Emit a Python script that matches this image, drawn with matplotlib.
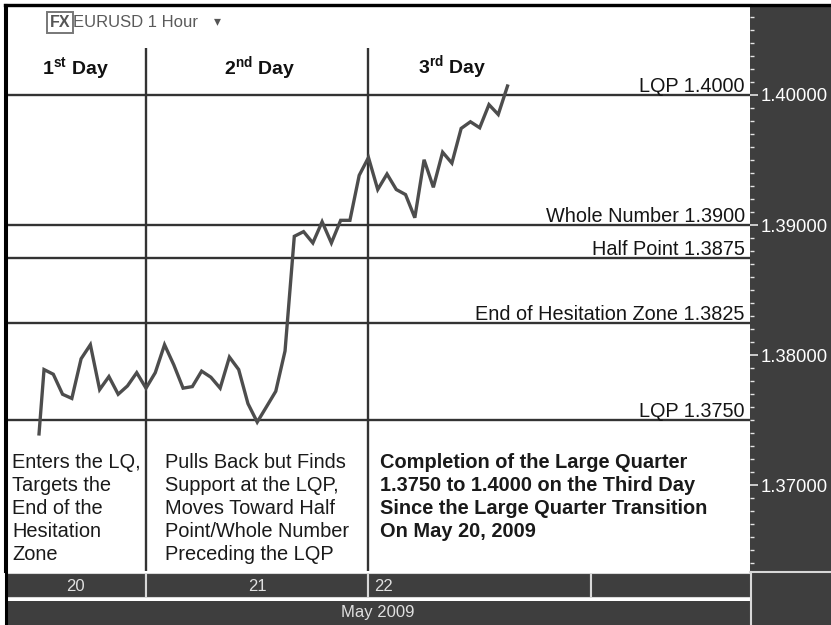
import numpy as np
import matplotlib
matplotlib.use("Agg")
import matplotlib.pyplot as plt
from matplotlib.ticker import MultipleLocator, FixedLocator, FixedFormatter
from matplotlib.lines import Line2D

plt.rcParams['font.family'] = ['Liberation Sans', 'DejaVu Sans']
plt.rcParams['mathtext.fontset'] = 'custom'
plt.rcParams['mathtext.rm'] = 'Liberation Sans'
plt.rcParams['mathtext.bf'] = 'Liberation Sans:bold'

# ---------------- data ----------------
# hourly EURUSD closes, hours counted from May 20 2009 00:00
first_hour = 12.46
first_price = 1.37393
start_hour = 13
prices = [1.37888, 1.37852, 1.37698, 1.37666, 1.37971, 1.38079, 1.37734, 1.37834,
          1.37698, 1.37762, 1.37864, 1.37745, 1.37864, 1.38079, 1.37924, 1.37745,
          1.37757, 1.37876, 1.37829, 1.37745, 1.37984, 1.37888, 1.37626, 1.37484,
          1.37602, 1.37721, 1.38031, 1.38913, 1.38949, 1.38862, 1.39025, 1.38862,
          1.39036, 1.39036, 1.39382, 1.39519, 1.39273, 1.39392, 1.39273, 1.39234,
          1.39056, 1.39502, 1.39290, 1.39560, 1.39476, 1.39743, 1.39794, 1.39748,
          1.39926, 1.39850, 1.40069]

levels = [1.4000, 1.3900, 1.3875, 1.3825, 1.3750]
level_labels = ["LQP 1.4000", "Whole Number 1.3900", "Half Point 1.3875",
                "End of Hesitation Zone 1.3825", "LQP 1.3750"]

day_bounds = [24, 48]
day_titles = ["1$^{\\mathbf{st}}$ Day", "2$^{\\mathbf{nd}}$ Day", "3$^{\\mathbf{rd}}$ Day"]
day_notes = ["Enters the LQ,\nTargets the\nEnd of the\nHesitation\nZone",
             "Pulls Back but Finds\nSupport at the LQP,\nMoves Toward Half\nPoint/Whole Number\nPreceding the LQP",
             "Completion of the Large Quarter\n1.3750 to 1.4000 on the Third Day\nSince the Large Quarter Transition\nOn May 20, 2009"]

day_starts = [0, 24, 48, 72]
day_labels = ["20", "21", "22", ""]
month_label = "May 2009"
yticks = [1.37, 1.38, 1.39, 1.40]
ytick_labels = ["1.37000", "1.38000", "1.39000", "1.40000"]

hours = np.concatenate([[first_hour], start_hour + np.arange(len(prices))])
series = np.concatenate([[first_price], prices])

# ---------------- figure ----------------
W, H = 831, 625
fig = plt.figure(figsize=(W / 100, H / 100), dpi=100)
fig.patch.set_facecolor('white')

DARK = '#3e3e3e'
XL = (8.79, 89.16)
YL = (1.363385, 1.406923)

def fx(px):
    return px / W

def fy(py):
    return 1 - py / H

# right dark panel (background axes)
axbg = fig.add_axes([fx(750), 0, 1 - fx(750), fy(5)], zorder=-5)
axbg.set_facecolor(DARK)
axbg.set_xticks([]); axbg.set_yticks([])
for s in axbg.spines.values():
    s.set_visible(False)
fig.lines.append(Line2D([fx(750), 1], [fy(571.5), fy(571.5)], transform=fig.transFigure,
                        color='#d8d8d8', lw=1.5, zorder=2))
fig.lines.append(Line2D([fx(750.5), fx(750.5)], [0, fy(571.5)], transform=fig.transFigure,
                        color='#d8d8d8', lw=1.5, zorder=2))

ax = fig.add_axes([fx(5), fy(571), fx(750) - fx(5), fy(5) - fy(571)], zorder=2)
ax.set_xlim(*XL)
ax.set_ylim(*YL)
ax.set_facecolor('white')
for s in ['right', 'bottom']:
    ax.spines[s].set_visible(False)
for s in ['left', 'top']:
    ax.spines[s].set_color('black')
    ax.spines[s].set_linewidth(2.2)

ax.set_xticks([])
ax.yaxis.tick_right()
ax.yaxis.set_major_locator(FixedLocator(yticks))
ax.yaxis.set_major_formatter(FixedFormatter(ytick_labels))
ax.yaxis.set_minor_locator(MultipleLocator(0.001))
ax.tick_params(axis='y', which='major', direction='out', length=6, width=1.2,
               color='#e6e6e6', labelcolor='white', labelsize=13.3, pad=2)
ax.tick_params(axis='y', which='minor', direction='out', length=3, width=1.0, color='#e6e6e6')

# level lines and labels
for lv, lab in zip(levels, level_labels):
    ax.axhline(lv, color='#333333', lw=1.7, zorder=2)
    ax.annotate(lab, xy=(0.993, lv), xycoords=ax.get_yaxis_transform(),
                xytext=(0, 2), textcoords='offset points', ha='right', va='baseline',
                fontsize=14.3, color='#151515', zorder=4)

# day separators
top_sep = 1.4 + (95 - 48) / 13000
ax.vlines(day_bounds, YL[0], top_sep, color='#333333', lw=1.7, zorder=2)

# price line
ax.plot(hours, series, color='#4d4d4d', lw=2.4, zorder=3, solid_joinstyle='miter')

# header titles
for xf, yf, t in zip([0.094, 0.342, 0.600], [0.887, 0.887, 0.890], day_titles):
    ax.text(xf, yf, t, transform=ax.transAxes, ha='center', va='center',
            fontsize=14, fontweight='bold', color='#111111')

# notes
for xf, t, w in zip([0.010, 0.2148, 0.503], day_notes, ['normal', 'normal', 'bold']):
    ax.text(xf, 0.209, t, transform=ax.transAxes, ha='left', va='top', fontsize=14.4,
            fontweight=w, color='#1a1a1a', linespacing=1.27)

# top-left instrument label
fig.text(fx(60), fy(22.5), "FX", ha='center', va='center', fontsize=11.5, color='#555555',
         fontweight='bold',
         bbox=dict(boxstyle='square,pad=0.18', fc='none', ec='#777777', lw=1.4))
fig.text(fx(73), fy(22.5), "EURUSD 1 Hour", ha='left', va='center', fontsize=12, color='#5a5a5a')
fig.text(fx(217), fy(21), "\u25BE", ha='center', va='center', fontsize=10, color='#555555',
         family=['DejaVu Sans'])

# date bar
axd = fig.add_axes([fx(5), fy(598), fx(750) - fx(5), fy(573) - fy(598)])
axd.set_xlim(*XL)
axd.set_ylim(0, 1)
axd.axis('off')
axd.bar(day_starts, [1] * len(day_starts), width=24, align='edge', color=DARK,
        edgecolor='#d8d8d8', linewidth=1.5)
label_pos = [(16.4, 'center'), (36.0, 'center'), (48.6, 'left'), (84.0, 'center')]
for (xp, ha), lab in zip(label_pos, day_labels):
    axd.text(xp, 0.45, lab, ha=ha, va='center', fontsize=12, color='#e0e0e0')

# month bar
axm = fig.add_axes([fx(5), 0, fx(750) - fx(5), fy(601)])
axm.set_xlim(*XL)
axm.set_ylim(0, 1)
axm.axis('off')
axm.bar([XL[0]], [1], width=XL[1] - XL[0], align='edge', color=DARK, edgecolor='none')
axm.text(0.5, 0.5, month_label, transform=axm.transAxes, ha='center', va='center',
         fontsize=12, color='#e0e0e0')

# outer borders
fig.lines.append(Line2D([fx(5), 1], [fy(4.5), fy(4.5)], transform=fig.transFigure,
                        color='black', lw=2.4, zorder=5))
fig.lines.append(Line2D([fx(5.5), fx(5.5)], [0, fy(4.5)], transform=fig.transFigure,
                        color='black', lw=2.2, zorder=5))

fig.savefig("out.png", dpi=100)
